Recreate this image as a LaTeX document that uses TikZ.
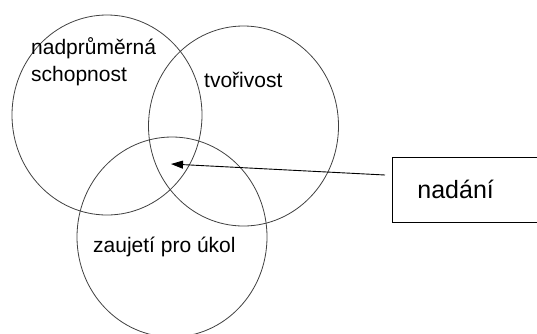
\documentclass[tikz,border=0pt]{standalone}
\usepackage{fontspec}
\setmainfont{Liberation Sans}
\usetikzlibrary{shapes.geometric,arrows.meta}
\tikzset{
  kruh/.style={draw=black!75, line width=0.8pt, ellipse, minimum width=190pt, minimum height=200pt},
  popis/.style={anchor=base west, inner sep=0pt, font=\fontsize{21}{27}\selectfont, align=left}
}
\begin{document}
\begin{tikzpicture}[x=1pt,y=-1pt]
\useasboundingbox (0,0) rectangle (537,333);
\begin{scope}
\clip (0,0) rectangle (537,333);
\node[kruh](schop) at (107,115){};
\node[kruh](tvor) at (243.5,126){};
\node[kruh](ukol) at (172,237){};
\node[popis](lschop) at (31,81){nadprůměrná\\schopnost};
\node[popis](ltvor) at (204,87){tvořivost};
\node[popis](lukol) at (93,252){zaujetí pro úkol};
\node[draw, line width=0.8pt, anchor=west, minimum height=65pt, inner xsep=25pt, text width=130pt, font=\fontsize{25}{30}\selectfont](nadani) at (392,189.5){nadání};
\coordinate (tip) at (171,164);
\draw[line width=0.9pt, -{Triangle[length=12pt,width=8pt]}] ([shift={(-7,-14.5)}]nadani.west) -- (tip);
\end{scope}
\end{tikzpicture}
\end{document}
